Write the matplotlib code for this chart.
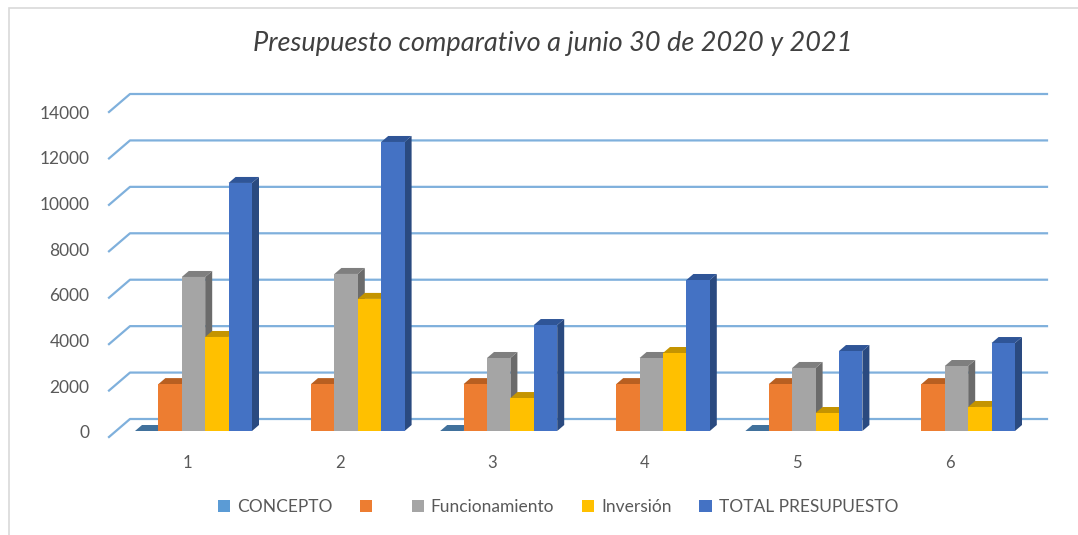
import numpy as np
import matplotlib
matplotlib.use("Agg")
import matplotlib.pyplot as plt
from matplotlib.patches import Patch, Rectangle

W, H = 1078, 535

categories = ["1", "2", "3", "4", "5", "6"]
tick_values = [0, 2000, 4000, 6000, 8000, 10000, 12000, 14000]

concepto = [0, np.nan, 0, np.nan, 0, np.nan]
sin_nombre = [2020, 2020, 2020, 2020, 2020, 2020]
funcionamiento = [6635, 6765, 3145, 3145, 2715, 2800]
inversion = [4050, 5690, 1420, 3360, 775, 1035]
total = [10685, 12450, 4565, 6505, 3445, 3790]

series_names = ["CONCEPTO", " ", "Funcionamiento", "Inversión", "TOTAL PRESUPUESTO"]
series_values = [concepto, sin_nombre, funcionamiento, inversion, total]
front_colors = ["#5B9BD5", "#ED7D31", "#A5A5A5", "#FFC000", "#4472C4"]
top_colors = ["#41719C", "#B85F21", "#7F7F7F", "#C49400", "#2F5597"]
side_colors = ["#335A7E", "#A0521C", "#6B6B6B", "#A67C00", "#2A4A80"]

plt.rcParams["font.family"] = ["Lato", "DejaVu Sans"]

fig = plt.figure(figsize=(W / 100, H / 100), dpi=100)

# plot area in pixels: front of the floor is y=437, 14000 on the front edge is y=112
left, right, top, bottom = 109, 1047, 112, 437
ax = fig.add_axes([left / W, 1 - bottom / H, (right - left) / W, (bottom - top) / H])

px_x = 152.6          # pixels per category
first = 193.5         # centre of the first group
ax.set_xlim((left - first) / px_x, (right - first) / px_x)
ax.set_ylim(0, 14000)
px_y = 325 / 14000    # pixels per unit

def dxp(p):
    return p / px_x

def dyp(p):
    return p / px_y

# walls: slanted stub plus the line along the back
wall_dx, wall_dy = dxp(21), dyp(18)
x0 = ax.get_xlim()[0]
x1 = ax.get_xlim()[1]
for v in tick_values:
    ax.plot([x0, x0 + wall_dx, x1], [v, v + wall_dy, v + wall_dy], color="#7FB0DC",
            lw=1.6, clip_on=False, zorder=1, solid_joinstyle="round")

# 3d bars, drawn from left to right so each one covers the side of the previous
bar_w = 23.4 / px_x
floor = dyp(6)
depth_x, depth_y = dxp(7), dyp(6)
idx = np.arange(len(categories))
for s, vals in enumerate(series_values):
    xs = idx + (s - 2) * bar_w - bar_w / 2
    for x, v in zip(xs, vals):
        if np.isnan(v):
            continue
        y = floor + v
        xr = x + bar_w
        ax.fill([xr, xr + depth_x, xr + depth_x, xr],
                [floor, floor + depth_y, y + depth_y, y],
                color=side_colors[s], lw=0, zorder=2 + s, clip_on=False)
        ax.fill([x, x + depth_x, xr + depth_x, xr],
                [y, y + depth_y, y + depth_y, y],
                color=top_colors[s], lw=0, zorder=2 + s, clip_on=False)
    ax.bar(xs, np.nan_to_num(vals), width=bar_w, bottom=floor, align="edge",
           color=front_colors[s], lw=0, zorder=2 + s, clip_on=False)

for sp in ax.spines.values():
    sp.set_visible(False)
ax.patch.set_alpha(0)
ax.tick_params(length=0, colors="#595959")

# the printed labels run 432..112 while the front edge runs 437..112
ax.set_yticks([v + dyp(5) * (1 - v / 14000) for v in tick_values])
ax.set_yticklabels([str(v) for v in tick_values], fontsize=12.5, color="#595959")
ax.tick_params(axis="y", pad=14)
ax.set_xticks(idx - dxp(6.5))
ax.set_xticklabels(categories, fontsize=12, color="#595959")
ax.tick_params(axis="x", pad=13)

fig.text(553 / W, 1 - 44 / H, "Presupuesto comparativo a junio 30 de 2020 y 2021",
         ha="center", va="center", fontsize=19.5, style="italic", color="#404040")

handles = [Patch(facecolor=c, lw=0) for c in front_colors]
fig.legend(handles, series_names, loc="center", bbox_to_anchor=(558 / W, 1 - 507 / H),
           ncol=5, frameon=False, fontsize=12.5, labelcolor="#595959",
           handlelength=0.7, handleheight=0.7, handletextpad=0.4, columnspacing=1.6)

# thin border of the chart area
fig.add_artist(Rectangle((8.5 / W, -0.01), 1.2, 1 - 8 / H + 0.01, fill=False,
                         ec="#D9D9D9", lw=1.2, transform=fig.transFigure))

fig.savefig("out.png", dpi=100)
